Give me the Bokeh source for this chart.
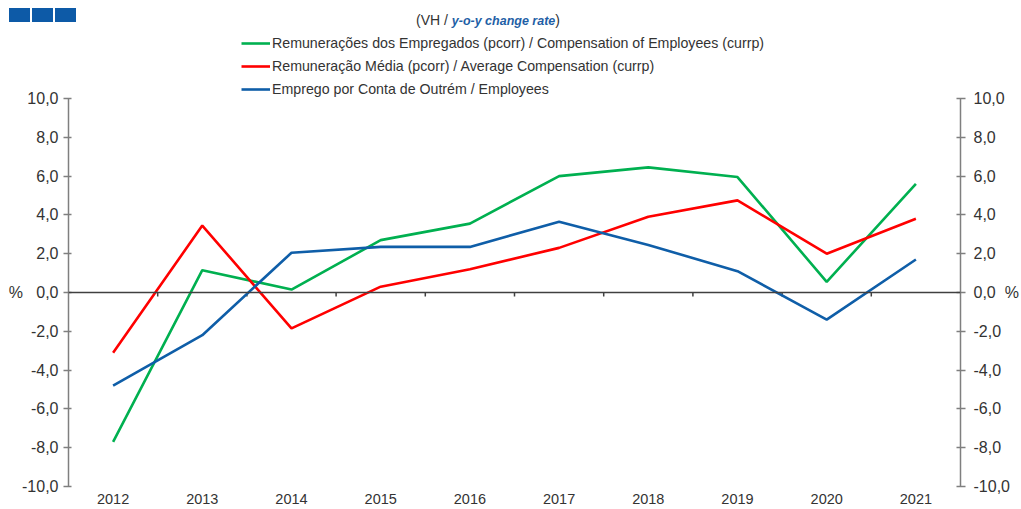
from bokeh.plotting import figure
from bokeh.layouts import column
from bokeh.models import (Range1d, LinearAxis, FixedTicker, Legend, LegendItem, Span, Div)
from bokeh.embed import file_html
from bokeh.resources import INLINE

# ---------------- data ----------------
years = [2012, 2013, 2014, 2015, 2016, 2017, 2018, 2019, 2020, 2021]
comp_employees = [-7.7, 1.15, 0.15, 2.7, 3.55, 6.0, 6.45, 5.95, 0.55, 5.6]
avg_compensation = [-3.1, 3.45, -1.85, 0.3, 1.2, 2.3, 3.9, 4.75, 2.0, 3.8]
employees = [-4.8, -2.2, 2.05, 2.35, 2.35, 3.65, 2.45, 1.1, -1.4, 1.7]
y_ticks = [-10, -8, -6, -4, -2, 0, 2, 4, 6, 8, 10]
y_tick_labels = ["-10,0", "-8,0", "-6,0", "-4,0", "-2,0", "0,0", "2,0", "4,0", "6,0", "8,0", "10,0"]
unit_label = "%"
series_labels = [
    "Remunerações dos Empregados (pcorr) / Compensation of Employees (currp)",
    "Remuneração Média (pcorr) / Average Compensation (currp)",
    "Emprego por Conta de Outrém / Employees",
]
title_parts = ["(VH / ", "y-o-y change rate", ")"]
series_colors = ["#00b050", "#ff0000", "#0f5ea8"]

# ---------------- layout ----------------
W = 1021
HEAD_H = 30
MAIN_H = 509 - HEAD_H
FRAME_L, FRAME_R = 68, 968          # page px
FRAME_T, FRAME_B = HEAD_H, 486      # page px (frame extends to top of main fig)
AXIS_TOP_PX = 98                    # where y=10 sits
FONT = "Liberation Sans"
TXT = "#333333"

x0, x1 = years[0] - 0.5, years[-1] + 0.5
ymin, ymax = y_ticks[0], y_ticks[-1]
px_per_y = (FRAME_B - AXIS_TOP_PX) / (ymax - ymin)
y_top = ymax + (AXIS_TOP_PX - FRAME_T) / px_per_y

# ---------------- header (logo + title) ----------------
logo = "".join(
    f'<div style="position:absolute;left:{l}px;top:8px;width:21px;height:14px;'
    f'background:#0d5aa7"></div>' for l in (9, 32, 55))
title_html = (
    f'<div style="position:absolute;left:416px;top:12px;white-space:nowrap;'
    f'font-family:\'{FONT}\';font-size:14px;line-height:16px;color:{TXT}">'
    f'{title_parts[0].replace(" ", "&nbsp;")}'
    f'<span style="color:#1f5fa6;font-weight:bold;font-style:italic;font-size:12.5px">'
    f'{title_parts[1]}</span>{title_parts[2]}</div>')
head = Div(text=f'<div style="position:relative;width:{W}px;height:{HEAD_H}px;'
                f'background:white">{logo}{title_html}</div>',
           width=W, height=HEAD_H, margin=(0, 0, 0, 0))

# ---------------- main chart ----------------
p = figure(width=W, height=MAIN_H, output_backend="svg", toolbar_location=None,
           x_range=Range1d(x0, x1), y_range=Range1d(ymin, y_top),
           min_border_left=FRAME_L, min_border_right=W - FRAME_R,
           min_border_top=0, min_border_bottom=509 - FRAME_B,
           background_fill_color="white", border_fill_color="white")
p.outline_line_color = None
p.xgrid.visible = False
p.ygrid.visible = False

# x axis: labels only
xa = p.xaxis[0]
xa.ticker = FixedTicker(ticks=years)
xa.axis_line_color = None
xa.major_tick_line_color = None
xa.minor_tick_line_color = None
xa.major_tick_out = 0
xa.major_tick_in = 0
xa.major_label_standoff = 7
xa.major_label_text_font = FONT
xa.major_label_text_font_size = "14.5px"
xa.major_label_text_color = TXT

# y axes (unit sign sits beside the zero label, as in the reference)
left_over = {t: l for t, l in zip(y_ticks, y_tick_labels)}
right_over = dict(left_over)
left_over[0] = unit_label + "\u00a0\u00a0\u00a0" + left_over[0]
right_over[0] = right_over[0] + "\u00a0\u00a0" + unit_label


def style_y(ax, tick_in, standoff):
    ax.ticker = FixedTicker(ticks=y_ticks)
    ax.bounds = (ymin, ymax)
    ax.axis_line_color = "#7f7f7f"
    ax.axis_line_width = 1.5
    ax.major_tick_line_color = "#7f7f7f"
    ax.major_tick_line_width = 1.5
    ax.major_tick_out = 5
    ax.major_tick_in = tick_in
    ax.minor_tick_line_color = None
    ax.major_label_standoff = standoff
    ax.major_label_text_font = FONT
    ax.major_label_text_font_size = "16px"
    ax.major_label_text_color = TXT


ya = p.yaxis[0]
style_y(ya, 3, 5)
ya.major_label_overrides = left_over
ra = LinearAxis()
style_y(ra, 4, 8)
ra.major_label_overrides = right_over
p.add_layout(ra, "right")

# zero line with category-boundary ticks
p.add_layout(Span(location=0, dimension="width", line_color="#404040", line_width=1.5))
bounds = [y + 0.5 for y in years[:-1]]
p.segment(x0=bounds, y0=[0] * len(bounds), x1=bounds, y1=[-4 / px_per_y] * len(bounds),
          line_color="#404040", line_width=1.5)

# series
items = []
for vals, col, lab in zip([comp_employees, avg_compensation, employees], series_colors, series_labels):
    r = p.line(years, vals, line_color=col, line_width=2.6)
    items.append(LegendItem(label=lab, renderers=[r]))

row_h, row_gap = 20, 3
legend_h = 3 * row_h + 2 * row_gap
legend_top_px = 33
legend = Legend(items=items,
                location=(241 - FRAME_L, FRAME_B - legend_top_px - legend_h),
                padding=0, margin=0, spacing=row_gap, glyph_width=29, glyph_height=row_h,
                label_height=row_h, label_standoff=2, border_line_color=None,
                background_fill_alpha=0, label_text_font=FONT,
                label_text_font_size="14.2px", label_text_color=TXT)
p.add_layout(legend, "center")

layout = column(head, p, spacing=0)
open("out.html", "w").write(file_html(layout, INLINE))
